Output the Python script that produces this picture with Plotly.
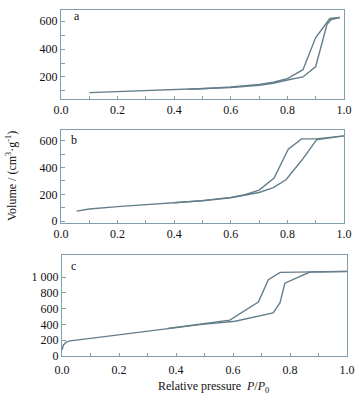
import plotly.graph_objects as go

# ---------------- data ----------------
a_ads_p = [0.10, 0.20, 0.30, 0.40, 0.50, 0.60, 0.70, 0.75, 0.80, 0.855, 0.90, 0.94, 0.955, 0.985]
a_ads_v = [88, 95, 101, 107, 114, 124, 140, 155, 178, 200, 275, 578, 612, 626]
a_des_p = [0.985, 0.95, 0.90, 0.855, 0.80, 0.75, 0.70, 0.60, 0.50, 0.45]
a_des_v = [626, 619, 483, 252, 188, 162, 146, 128, 116, 111]

b_ads_p = [0.055, 0.10, 0.20, 0.30, 0.40, 0.50, 0.60, 0.668, 0.70, 0.75, 0.795, 0.85, 0.903, 1.0]
b_ads_v = [75, 90, 108, 122, 136, 152, 174, 202, 214, 250, 309, 452, 607, 636]
b_des_p = [1.0, 0.90, 0.85, 0.803, 0.753, 0.70, 0.65, 0.60, 0.50, 0.40]
b_des_v = [636, 614, 614, 536, 321, 231, 197, 177, 153, 137]

c_ads_p = [0.0, 0.005, 0.015, 0.028, 0.10, 0.20, 0.30, 0.37, 0.484, 0.607, 0.675, 0.741, 0.765, 0.782, 0.87, 1.0]
c_ads_v = [77, 140, 175, 192, 224, 269, 315, 342, 397, 440, 496, 547, 675, 923, 1064, 1070]
c_des_p = [1.0, 0.876, 0.765, 0.724, 0.706, 0.689, 0.589, 0.48, 0.37]
c_des_v = [1073, 1062, 1060, 966, 825, 684, 455, 405, 348]

x_ticks = [0.0, 0.2, 0.4, 0.6, 0.8, 1.0]
x_ticktext = ["0.0", "0.2", "0.4", "0.6", "0.8", "1.0"]
a_yticks = [200, 400, 600]
b_yticks = [0, 200, 400, 600]
c_yticks = [0, 200, 400, 600, 800, 1000]
c_yticktext = ["0", "200", "400", "600", "800", "1 000"]
panel_labels = ["a", "b", "c"]

# ---------------- style ----------------
W, H = 359, 400
LINE = "#647e8c"
FRAME = "#7f9fb0"
FONT = "Liberation Serif, Times New Roman, serif"

def px_x(p):
    return p / W

def px_y(p):
    return 1 - p / H

fig = go.Figure()

panels = [
    (a_ads_p, a_ads_v, a_des_p, a_des_v),
    (b_ads_p, b_ads_v, b_des_p, b_des_v),
    (c_ads_p, c_ads_v, c_des_p, c_des_v),
]
for i, (ap, av, dp, dv) in enumerate(panels):
    xa = "x" if i == 0 else f"x{i+1}"
    ya = "y" if i == 0 else f"y{i+1}"
    fig.add_trace(go.Scatter(x=ap, y=av, mode="lines", xaxis=xa, yaxis=ya,
                             line=dict(color=LINE, width=1.4), showlegend=False))
    fig.add_trace(go.Scatter(x=dp, y=dv, mode="lines", xaxis=xa, yaxis=ya,
                             line=dict(color=LINE, width=1.4), showlegend=False))

# pixel geometry of each panel: (left, right, top, bottom)
geo = [(61, 344, 10, 99), (61, 344, 130, 223), (62, 347, 255, 356)]
yranges = [[42, 680], [-14, 680], [0, 1280]]
yticks = [(a_yticks, [str(v) for v in a_yticks], 100),
          (b_yticks, [str(v) for v in b_yticks], 100),
          (c_yticks, c_yticktext, None)]
xstandoff = [0, 0, 3]

axis_common = dict(showline=True, mirror=True, linecolor=FRAME, linewidth=1,
                   ticks="inside", tickcolor=FRAME, showgrid=False, zeroline=False,
                   tickfont=dict(family=FONT, size=12, color="#111"), automargin=False)

layout = {}
for i, (l, r, t, b) in enumerate(geo):
    xk = "xaxis" if i == 0 else f"xaxis{i+1}"
    yk = "yaxis" if i == 0 else f"yaxis{i+1}"
    ya = "y" if i == 0 else f"y{i+1}"
    xa = "x" if i == 0 else f"x{i+1}"
    layout[xk] = dict(axis_common, domain=[px_x(l), px_x(r)], anchor=ya,
                      range=[0, 1], tickvals=x_ticks, ticktext=x_ticktext, ticklen=3,
                      ticklabelstandoff=xstandoff[i],
                      minor=dict(dtick=0.1, tick0=0, ticks="inside", ticklen=3, tickcolor=FRAME))
    tv, tt, mn = yticks[i]
    yd = dict(axis_common, domain=[px_y(b), px_y(t)], anchor=xa,
              range=yranges[i], tickvals=tv, ticktext=tt, ticklen=4)
    if mn:
        yd["minor"] = dict(dtick=mn, tick0=0, ticks="inside", ticklen=4, tickcolor=FRAME)
    layout[yk] = yd

annotations = []
label_pos = [(77, 16), (74, 140), (73, 266)]
for lab, (lx, ly) in zip(panel_labels, label_pos):
    annotations.append(dict(text=lab, x=px_x(lx), y=px_y(ly), xref="paper", yref="paper",
                            xanchor="center", yanchor="middle", showarrow=False,
                            font=dict(family=FONT, size=12, color="#111")))
annotations.append(dict(text="Volume / (cm<sup>3</sup>·g<sup>-1</sup>)", x=px_x(12), y=px_y(176),
                        xref="paper", yref="paper", xanchor="center", yanchor="middle",
                        textangle=-90, showarrow=False,
                        font=dict(family=FONT, size=12, color="#111")))
annotations.append(dict(text="Relative pressure  <i>P</i>/<i>P</i><sub>0</sub>", x=px_x(213), y=px_y(387),
                        xref="paper", yref="paper", xanchor="center", yanchor="middle",
                        showarrow=False,
                        font=dict(family=FONT, size=12, color="#111")))

fig.update_layout(width=W, height=H, margin=dict(l=0, r=0, t=0, b=0),
                  paper_bgcolor="white", plot_bgcolor="white",
                  annotations=annotations, **layout)

fig.write_html("out.html", config={"displayModeBar": False},
               post_script="document.body.style.margin='0px';document.body.style.overflow='hidden';")
